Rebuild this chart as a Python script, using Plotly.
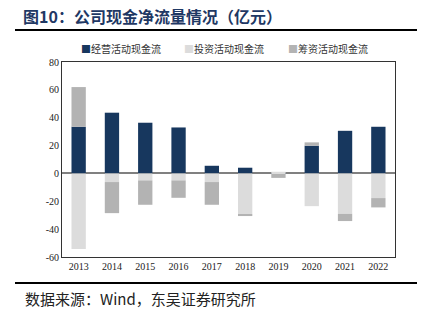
import plotly.graph_objects as go

years = ["2013", "2014", "2015", "2016", "2017", "2018", "2019", "2020", "2021", "2022"]
operating = [33.5, 43.6, 36.4, 33.0, 5.5, 4.1, -0.4, 19.9, 30.6, 33.5]
investing = [-54.3, -6.2, -5.0, -5.0, -6.2, -29.2, 1.2, -23.5, -29.0, -17.7]
financing = [28.5, -22.3, -17.5, -12.5, -16.3, -1.4, -2.8, 2.4, -5.2, -6.7]
names = ["经营活动现金流", "投资活动现金流", "筹资活动现金流"]
colors = ["#17375E", "#DCDCDC", "#B3B3B3"]
ytick_vals = [-60, -40, -20, 0, 20, 40, 60, 80]
ytick_text = ["-60", "-40", "-20", "0", "20", "40", "60", "80"]

CJK = "Noto Sans CJK SC"
SERIF = "Liberation Serif"

fig = go.Figure()
for vals, nm, col in zip([operating, investing, financing], names, colors):
    fig.add_trace(go.Bar(x=years, y=vals, name=nm, marker=dict(color=col, line=dict(width=0)),
                         width=0.43, showlegend=False))

fig.update_layout(
    barmode="relative",
    width=427, height=323,
    margin=dict(l=62, r=32, t=62, b=66),
    paper_bgcolor="white", plot_bgcolor="white",
    showlegend=False,
    font=dict(family=SERIF, size=10, color="#222222"),
)
fig.update_xaxes(showline=True, linecolor="#333333", linewidth=1, mirror=True, ticks="",
                 tickfont=dict(family=SERIF, size=10), showgrid=False)
fig.update_yaxes(range=[-60, 80], tickvals=ytick_vals, ticktext=ytick_text, showline=True,
                 linecolor="#333333", linewidth=1, mirror=True,
                 showgrid=False, zeroline=True, zerolinecolor="#808080", zerolinewidth=1.5,
                 tickfont=dict(family=SERIF, size=10), ticks="")

# legend drawn as text with coloured squares
legend_x = [79, 182, 286]
for nm, col, lx in zip(names, colors, legend_x):
    fig.add_annotation(text=f"<span style='color:{col}'>■</span>{nm}", xref="paper", yref="paper",
                       x=(lx-62)/333, y=1 + (62-48)/195, xanchor="left", yanchor="middle",
                       showarrow=False, font=dict(family=CJK, size=10, color="#333333"))

fig.add_annotation(text="<b>图10：公司现金净流量情况（亿元）</b>", xref="paper", yref="paper",
                   x=(21-62)/333, y=1 + (62-16)/195, xanchor="left", yanchor="middle", showarrow=False,
                   font=dict(family=CJK, size=16, color="#1F3864"))
fig.add_annotation(text="数据来源：Wind，东吴证券研究所", xref="paper", yref="paper",
                   x=(23-62)/333, y=-(298-257)/195, xanchor="left", yanchor="middle", showarrow=False,
                   font=dict(family=CJK, size=15, color="#222222"))
fig.add_shape(type="line", xref="paper", yref="paper", x0=(15-62)/333, x1=(417-62)/333,
              y0=1 + (62-30)/195, y1=1 + (62-30)/195, line=dict(color="black", width=2))
fig.add_shape(type="line", xref="paper", yref="paper", x0=(15-62)/333, x1=(417-62)/333,
              y0=-(283-257)/195, y1=-(283-257)/195, line=dict(color="black", width=2))

fig.write_html("out.html")
